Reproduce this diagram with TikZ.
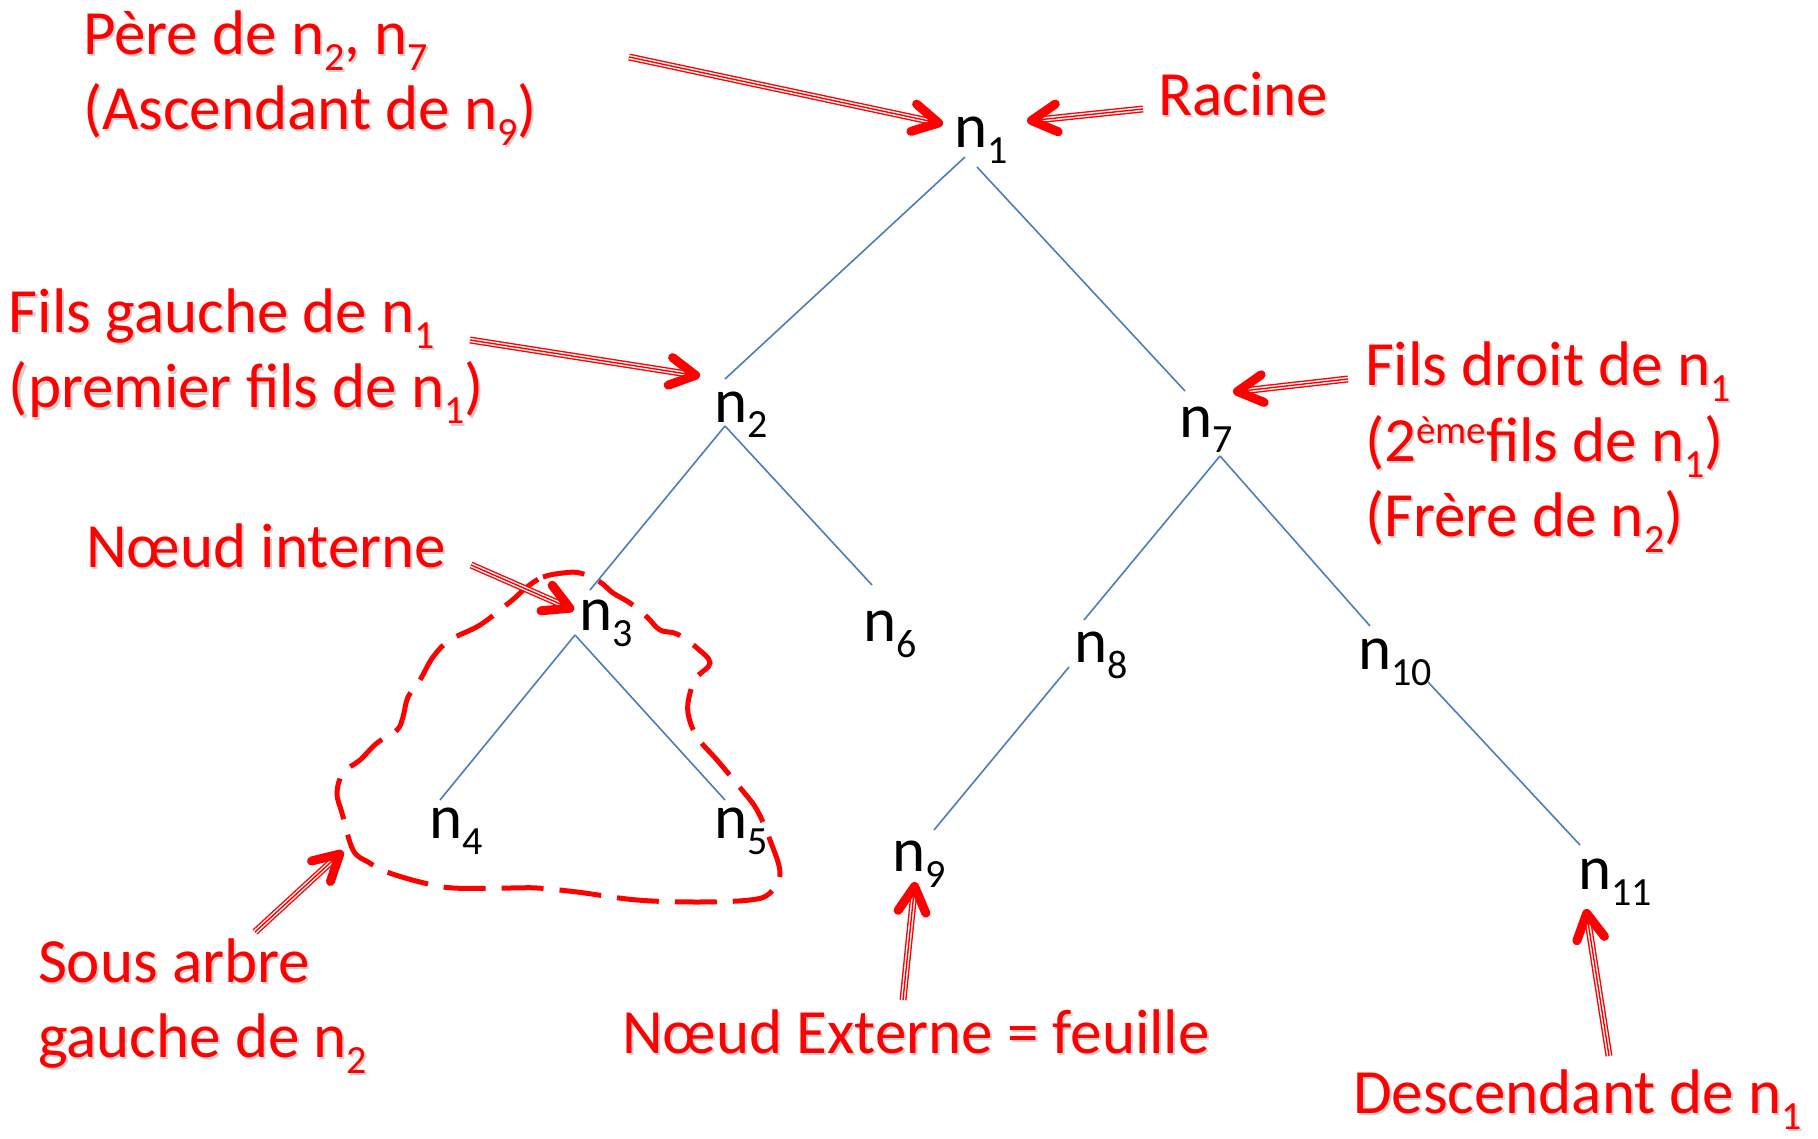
\documentclass[tikz,border=0pt]{standalone}
\usepackage{fontspec}
\setmainfont{Carlito}
\usepackage{graphicx}
\usetikzlibrary{calc}
\definecolor{edgeblue}{HTML}{4A7EBB}
\newcommand\sbs[1]{\raisebox{-16pt}{\fontsize{40}{40}\selectfont #1}}
\newcommand\sps[1]{\raisebox{18pt}{\fontsize{39}{39}\selectfont #1}}
\tikzset{
  nlbl/.style={anchor=base west, inner sep=0pt, outer sep=0pt, font=\fontsize{63}{75}\selectfont, text=black},
  rlbl/.style={anchor=base west, inner sep=0pt, outer sep=0pt, font=\fontsize{63}{75}\selectfont, text=red},
  rshadow/.style={rlbl, text=black!18},
  edge/.style={draw=edgeblue, line width=1.6pt},
  blob/.style={draw=red, line width=5pt, dash pattern=on 42pt off 16pt},
  headstyle/.style={draw=red, line width=9pt, line cap=round, line join=round},
}
\newcommand\rtext[3]{%
  \node[rshadow] (#1s) at ($#2+(2,2)$) {#3};
  \node[rlbl] (#1) at #2 {#3};}
\newcommand\redarrow[2]{%
  \draw[red, line width=7pt] (#1) -- ($(#2)!10pt!(#1)$);
  \draw[white, line width=4.2pt] (#1) -- ($(#2)!10pt!(#1)$);
  \draw[red, line width=1.4pt] (#1) -- ($(#2)!10pt!(#1)$);
  \draw[headstyle] ($(#2)!33pt!25:(#1)$) -- ($(#2)!4.5pt!(#1)$) -- ($(#2)!33pt!-25:(#1)$);}
\begin{document}
\begin{tikzpicture}[x=1pt, y=-1pt]
\fill[white] (0,0) rectangle (1818,1139);
\useasboundingbox (0,0) rectangle (1818,1139);

% tree labels
\node[nlbl] (n1) at (954,148) {n\sbs{1}};
\node[nlbl] (n2) at (714,422) {n\sbs{2}};
\node[nlbl] (n7) at (1179,437) {n\sbs{7}};
\node[nlbl] (n3) at (579,630) {n\sbs{3}};
\node[nlbl] (n6) at (863,641) {n\sbs{6}};
\node[nlbl] (n8) at (1074,662) {n\sbs{8}};
\node[nlbl] (n10) at (1358,669) {n\sbs{10}};
\node[nlbl] (n4) at (429,838) {n\sbs{4}};
\node[nlbl] (n5) at (714,838) {n\sbs{5}};
\node[nlbl] (n9) at (892,871) {n\sbs{9}};
\node[nlbl] (n11) at (1578,889) {n\sbs{11}};

% edge end points
\coordinate (n1bl) at (965,157); \coordinate (n1br) at (977,167);
\coordinate (n2t) at (725,379); \coordinate (n2b) at (725,426);
\coordinate (n7t) at (1185,391); \coordinate (n7b) at (1220,456);
\coordinate (n3t) at (590,590); \coordinate (n3b) at (575,635);
\coordinate (n6t) at (872,585);
\coordinate (n8t) at (1084,620); \coordinate (n8b) at (1069,667);
\coordinate (n10t) at (1370,626); \coordinate (n10b) at (1428,682);
\coordinate (n4t) at (440,800); \coordinate (n5t) at (725,800);
\coordinate (n9t) at (934,830); \coordinate (n11t) at (1580,845);

\draw[edge] (n1bl) -- (n2t);
\draw[edge] (n1br) -- (n7t);
\draw[edge] (n2b) -- (n3t);
\draw[edge] (n2b) -- (n6t);
\draw[edge] (n7b) -- (n8t);
\draw[edge] (n7b) -- (n10t);
\draw[edge] (n3b) -- (n4t);
\draw[edge] (n3b) -- (n5t);
\draw[edge] (n8b) -- (n9t);
\draw[edge] (n10b) -- (n11t);

% dashed subtree outline
\draw[blob] plot[smooth cycle, tension=0.6] coordinates {
 (527,587) (543,577) (563,573) (580,573) (600,582) (613,593) (630,603)
 (647,617) (660,630) (677,634) (697,648) (710,663) (697,677) (690,693)
 (688,713) (697,737) (717,760) (742,790) (757,810) (770,840) (780,873)
 (770,893) (750,900) (697,902) (637,900) (577,892) (537,888) (510,888)
 (453,888) (420,882) (387,872) (368,862) (353,850) (342,813) (337,793)
 (343,773) (360,760) (377,743) (397,730) (403,717) (408,697) (420,680)
 (433,657) (450,640) (480,625) (510,602)};

% arrows
\coordinate (a1s) at (629,57);   \coordinate (a1t) at (943,124);
\coordinate (a2s) at (1143,109); \coordinate (a2t) at (1027,121);
\coordinate (a3s) at (470,340);  \coordinate (a3t) at (700,376);
\coordinate (a4s) at (1348,379); \coordinate (a4t) at (1233,392);
\coordinate (a5s) at (471,565);  \coordinate (a5t) at (574,610);
\coordinate (a6s) at (255,932);  \coordinate (a6t) at (343,851);
\coordinate (a7s) at (903,1000); \coordinate (a7t) at (915,882);
\coordinate (a8s) at (1609,1056); \coordinate (a8t) at (1586,909);
\redarrow{a1s}{a1t}
\redarrow{a2s}{a2t}
\redarrow{a3s}{a3t}
\redarrow{a4s}{a4t}
\redarrow{a5s}{a5t}
\redarrow{a6s}{a6t}
\redarrow{a7s}{a7t}
\redarrow{a8s}{a8t}

% red labels
\rtext{pere1}{(83,55)}{Père de n\sbs{2}, n\sbs{7}}
\rtext{pere2}{(83,130)}{(Ascendant de n\sbs{9})}
\rtext{racine}{(1158,116)}{Racine}
\rtext{fg1}{(9,333)}{Fils gauche de n\sbs{1}}
\rtext{fg2}{(9,408)}{(premier fils de n\sbs{1})}
\rtext{fd1}{(1365,386)}{Fils droit de n\sbs{1}}
\rtext{fd2}{(1365,461)}{(2\sps{ème}fils de n\sbs{1})}
\rtext{fd3}{(1365,536)}{(Frère de n\sbs{2})}
\rtext{interne}{(86,567)}{Nœud interne}
\rtext{sous1}{(38,982)}{Sous arbre}
\rtext{sous2}{(38,1057)}{gauche de n\sbs{2}}
\rtext{externe}{(622,1053)}{Nœud Externe = feuille}
\rtext{desc}{(1353,1113)}{Descendant de n\sbs{1}}
\end{tikzpicture}
\end{document}
